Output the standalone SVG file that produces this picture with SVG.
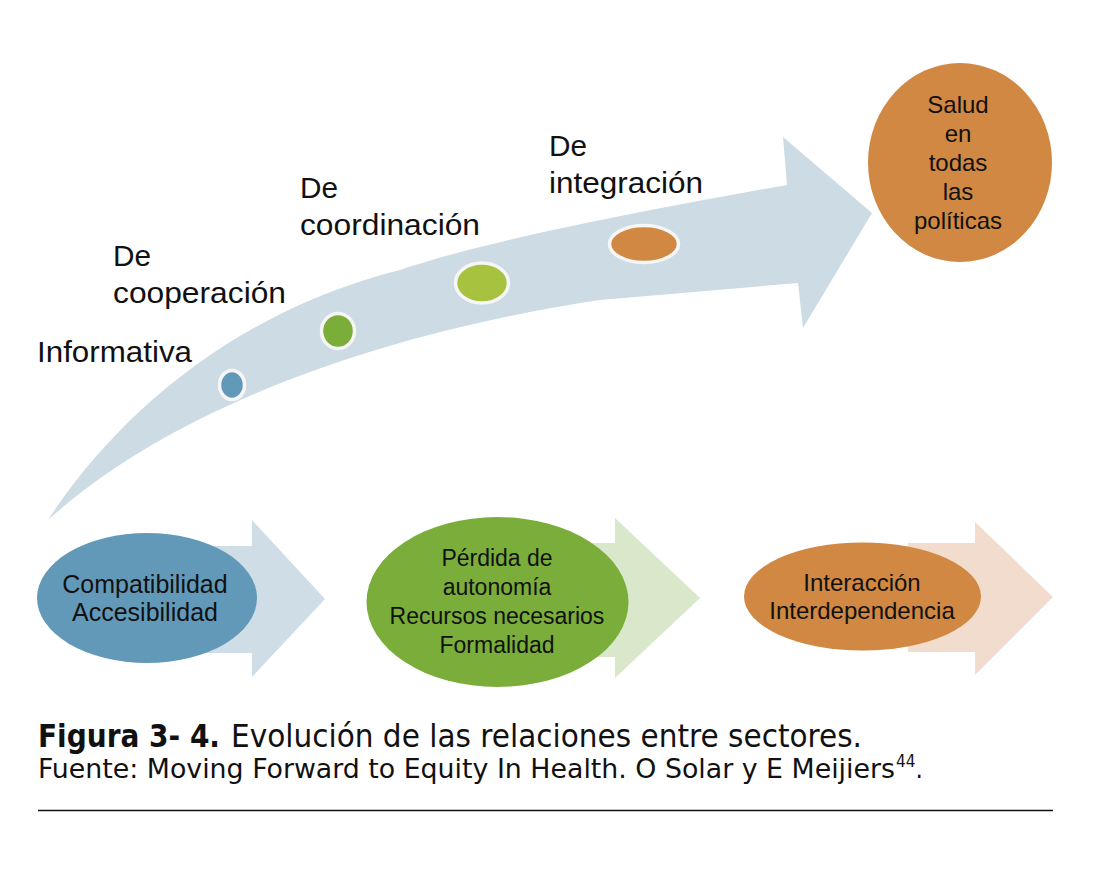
<svg xmlns="http://www.w3.org/2000/svg" width="1096" height="871" viewBox="0 0 1096 871">
  <style>
    .lbl { font-family: "Liberation Sans", Arial, Helvetica, sans-serif; fill: #111; }
    .top { font-size: 29px; }
    .node { font-size: 24px; text-anchor: middle; }
    .cap { font-family: "Liberation Sans Narrow", "DejaVu Sans Condensed", "Liberation Sans", Arial, sans-serif; fill: #111; }
    .dot { stroke: #f6f6f6; stroke-width: 3.5; }
  </style>
  <rect width="1096" height="871" fill="#ffffff"/>

  <g id="connectors">
    <path id="big-arrow" fill="#cddbe4" d="M48,520 C120,410 240,310 400,270 C470,246 600,218 787,185 L783,137 L872,213 L803,328 L798,283 L600,300 C400,330 180,400 48,520 Z"/>
    <path id="arrow-1" fill="#cedde6" d="M150,546 L252,546 L252,520 L325,599 L252,677 L252,653 L150,653 Z"/>
    <path id="arrow-2" fill="#d9e7ca" d="M500,543 L615,543 L615,518 L700,598 L615,678 L615,657 L500,657 Z"/>
    <path id="arrow-3" fill="#f2dccd" d="M908,543 L975,543 L975,522 L1053,597 L975,675 L975,652 L908,652 Z"/>
  </g>

  <g id="stage-informativa">
    <ellipse class="dot" cx="232" cy="385" rx="12.5" ry="14.5" fill="#6399b8"/>
    <text class="lbl top" x="37" y="362" textLength="155" lengthAdjust="spacingAndGlyphs">Informativa</text>
  </g>
  <g id="stage-cooperacion">
    <ellipse class="dot" cx="338" cy="331" rx="16.5" ry="17.5" fill="#7aad3a"/>
    <text class="lbl top" x="113" y="266" textLength="38" lengthAdjust="spacingAndGlyphs">De</text>
    <text class="lbl top" x="113" y="303" textLength="173" lengthAdjust="spacingAndGlyphs">cooperación</text>
  </g>
  <g id="stage-coordinacion">
    <ellipse class="dot" cx="482" cy="283" rx="26.5" ry="20" fill="#a6c23e"/>
    <text class="lbl top" x="300" y="198" textLength="38" lengthAdjust="spacingAndGlyphs">De</text>
    <text class="lbl top" x="300" y="235" textLength="180" lengthAdjust="spacingAndGlyphs">coordinación</text>
  </g>
  <g id="stage-integracion">
    <ellipse class="dot" cx="644" cy="244" rx="34.5" ry="18.5" fill="#d08843"/>
    <text class="lbl top" x="549" y="156" textLength="38" lengthAdjust="spacingAndGlyphs">De</text>
    <text class="lbl top" x="549" y="193" textLength="154" lengthAdjust="spacingAndGlyphs">integración</text>
  </g>

  <g id="salud-todas-politicas">
    <ellipse cx="960" cy="162.5" rx="92" ry="99.5" fill="#d08843"/>
    <text class="lbl node" x="958" y="113">Salud</text>
    <text class="lbl node" x="958" y="142">en</text>
    <text class="lbl node" x="958" y="171">todas</text>
    <text class="lbl node" x="958" y="200">las</text>
    <text class="lbl node" x="958" y="229">políticas</text>
  </g>

  <g id="node-compatibilidad">
    <ellipse cx="147" cy="598" rx="110" ry="65" fill="#6399b8"/>
    <text class="lbl node" x="145" y="593" style="font-size:25px">Compatibilidad</text>
    <text class="lbl node" x="145" y="621" style="font-size:25px">Accesibilidad</text>
  </g>
  <g id="node-perdida">
    <ellipse cx="497.5" cy="602" rx="131" ry="85" fill="#7aad3a"/>
    <text class="lbl node" x="497" y="566" style="font-size:23px">Pérdida de</text>
    <text class="lbl node" x="497" y="595" style="font-size:23px">autonomía</text>
    <text class="lbl node" x="497" y="624" style="font-size:23px">Recursos necesarios</text>
    <text class="lbl node" x="497" y="653" style="font-size:23px">Formalidad</text>
  </g>
  <g id="node-interaccion">
    <ellipse cx="862.5" cy="596.5" rx="118.5" ry="54" fill="#d08843"/>
    <text class="lbl node" x="862" y="591">Interacción</text>
    <text class="lbl node" x="862" y="619">Interdependencia</text>
  </g>

  <g id="caption">
    <text class="cap" x="38" y="747" font-size="32" font-weight="bold" textLength="182" lengthAdjust="spacingAndGlyphs">Figura 3- 4.</text>
    <text class="cap" x="231" y="747" font-size="32" textLength="631" lengthAdjust="spacingAndGlyphs">Evolución de las relaciones entre sectores.</text>
    <text class="cap" x="38" y="778" font-size="26" textLength="857" lengthAdjust="spacingAndGlyphs">Fuente: Moving Forward to Equity In Health. O Solar y E Meijiers</text>
    <text class="cap" x="896" y="778" font-size="26"><tspan dy="-11" font-size="17">44</tspan><tspan dy="11">.</tspan></text>
    <line x1="38" y1="810.5" x2="1053" y2="810.5" stroke="#111" stroke-width="1.6"/>
  </g>
</svg>
